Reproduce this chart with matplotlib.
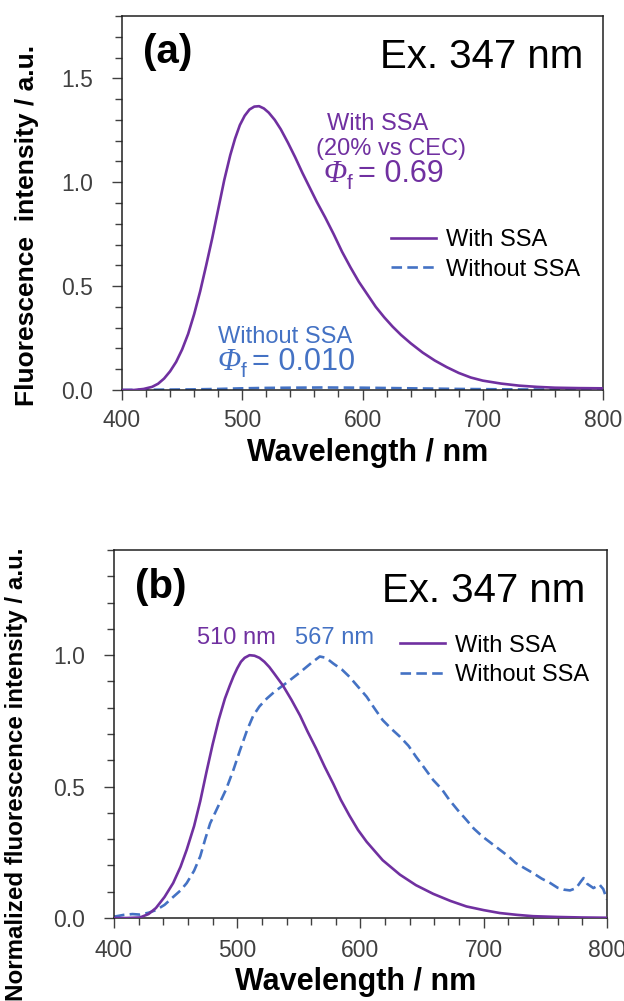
import matplotlib
matplotlib.use("Agg")
import matplotlib.pyplot as plt
from matplotlib.ticker import MultipleLocator

plt.rcParams['font.family'] = ['Liberation Sans', 'DejaVu Sans']

purple = '#7030A0'
blue = '#4472C4'
tick_col = '#404040'

# (a) fluorescence spectra, Ex. 347 nm
wl_a_with = [400, 410, 418, 425, 430, 435, 440, 445, 450, 455, 460, 465, 470, 475,
             480, 485, 490, 494, 498, 502, 506, 510, 514, 518, 522, 527, 532, 538,
             544, 550, 556, 562, 569, 576, 583, 590, 597, 604, 611, 618, 625, 632,
             640, 650, 660, 670, 680, 690, 700, 715, 730, 745, 760, 780, 800]
int_a_with = [0.0, 0.0, 0.005, 0.015, 0.03, 0.055, 0.09, 0.135, 0.195, 0.27, 0.365,
              0.475, 0.60, 0.73, 0.87, 1.01, 1.13, 1.21, 1.275, 1.32, 1.35, 1.364,
              1.366, 1.355, 1.335, 1.30, 1.255, 1.19, 1.12, 1.045, 0.975, 0.905,
              0.83, 0.75, 0.665, 0.59, 0.52, 0.46, 0.40, 0.35, 0.305, 0.265, 0.225,
              0.18, 0.142, 0.11, 0.082, 0.06, 0.045, 0.031, 0.021, 0.015, 0.011,
              0.009, 0.008]

wl_a_without = [400, 420, 440, 460, 480, 500, 520, 540, 567, 600, 640, 680, 720, 760, 800]
int_a_without = [0.0, 0.001, 0.002, 0.003, 0.005, 0.008, 0.010, 0.011, 0.012, 0.011,
                 0.008, 0.005, 0.003, 0.002, 0.001]

# (b) normalized spectra
wl_b_with = [400, 410, 421, 428, 434, 441, 448, 454, 459, 465, 470, 475, 480, 485,
             490, 494, 497, 500, 503, 506, 510, 514, 518, 522, 526, 530, 537, 544,
             551, 557, 564, 571, 578, 584, 591, 598, 605, 618, 632, 645, 659, 673,
             686, 700, 713, 727, 740, 760, 780, 800]
int_b_with = [0.0, 0.0, 0.002, 0.015, 0.038, 0.08, 0.133, 0.195, 0.26, 0.35, 0.445,
              0.555, 0.66, 0.755, 0.835, 0.885, 0.92, 0.95, 0.975, 0.99, 1.0, 0.998,
              0.99, 0.975, 0.955, 0.93, 0.885, 0.83, 0.77, 0.71, 0.645, 0.575, 0.51,
              0.45, 0.39, 0.335, 0.29, 0.22, 0.165, 0.125, 0.092, 0.065, 0.044, 0.03,
              0.019, 0.012, 0.007, 0.004, 0.002, 0.001]

wl_b_without = [400, 408, 415, 421, 428, 434, 441, 448, 454, 459, 465, 470, 474, 478,
                482, 486, 491, 497, 502, 508, 513, 518, 524, 530, 540, 551, 560, 567,
                572, 578, 585, 591, 598, 605, 611, 618, 625, 632, 639, 645, 652, 659,
                666, 672, 679, 686, 692, 699, 706, 713, 720, 726, 733, 740, 747, 754,
                760, 765, 770, 775, 779, 781, 784, 789, 794, 797, 800]
int_b_without = [0.005, 0.012, 0.015, 0.013, 0.02, 0.03, 0.05, 0.08, 0.105, 0.133,
                 0.18, 0.235, 0.30, 0.36, 0.40, 0.44, 0.49, 0.565, 0.635, 0.715, 0.77,
                 0.805, 0.835, 0.86, 0.895, 0.935, 0.97, 0.995, 0.99, 0.968, 0.945,
                 0.918, 0.88, 0.842, 0.80, 0.753, 0.72, 0.69, 0.655, 0.614, 0.57,
                 0.525, 0.49, 0.45, 0.41, 0.373, 0.34, 0.31, 0.285, 0.26, 0.235,
                 0.209, 0.19, 0.171, 0.15, 0.133, 0.115, 0.108, 0.105, 0.114, 0.14,
                 0.152, 0.13, 0.114, 0.127, 0.11, 0.07]

fig = plt.figure(figsize=(6.24, 10.01), dpi=100)
ax1 = fig.add_axes([0.1955, 0.6104, 0.771, 0.3736])
ax2 = fig.add_axes([0.1827, 0.0829, 0.790, 0.3676])

lw = 1.9
dash = (4, 2)


def style_axes(ax, ymax, xpad, ypad):
    ax.set_xlim(400, 800)
    ax.set_ylim(0, ymax)
    ax.xaxis.set_major_locator(MultipleLocator(100))
    ax.xaxis.set_minor_locator(MultipleLocator(20))
    ax.yaxis.set_major_locator(MultipleLocator(0.5))
    ax.yaxis.set_minor_locator(MultipleLocator(0.1))
    ax.yaxis.set_major_formatter(matplotlib.ticker.FormatStrFormatter('%.1f'))
    ax.tick_params(which='major', direction='out', length=7, width=1.0,
                   labelsize=16.5, labelcolor=tick_col, color='#404040')
    ax.tick_params(which='minor', direction='out', length=5, width=1.0, color='#404040')
    ax.tick_params(axis='x', which='major', pad=xpad)
    ax.tick_params(axis='y', which='major', pad=ypad)
    for s in ax.spines.values():
        s.set_linewidth(1.1)
        s.set_color('#202020')


def phi_text(ax, x, y, value, color):
    # italic serif Phi, sans subscript f, then "= value"
    t1 = ax.text(x, y, 'Φ', transform=ax.transAxes, fontsize=22, color=color,
                 family='Liberation Serif', style='italic', ha='left', va='baseline')
    t2 = ax.annotate('f', xy=(1, 0), xycoords=t1, xytext=(0, 0),
                     textcoords='offset points', fontsize=15, color=color,
                     ha='left', va='baseline')
    ax.annotate('= ' + value, xy=(1, 0), xycoords=(t2, t1), xytext=(4, 0),
                textcoords='offset points', fontsize=22, color=color,
                ha='left', va='bottom')


# ---- (a)
ax1.plot(wl_a_with, int_a_with, color=purple, lw=lw, label='With SSA', zorder=3)
ax1.plot(wl_a_without, int_a_without, color=blue, lw=lw, dashes=dash,
         label='Without SSA', zorder=2)
style_axes(ax1, 1.8, 6.5, 14)
ax1.set_xlabel('Wavelength / nm', fontsize=22, fontweight='bold')
ax1.xaxis.set_label_coords(0.51, -0.128)
ax1.set_ylabel('Fluorescence  intensity / a.u.', fontsize=19, fontweight='bold')
ax1.yaxis.set_label_coords(-0.172, 0.441)

ax1.text(0.044, 0.904, '(a)', transform=ax1.transAxes, fontsize=29,
         fontweight='bold', ha='left', va='center')
ax1.text(0.958, 0.861, 'Ex. 347 nm', transform=ax1.transAxes, fontsize=29,
         ha='right', va='baseline')
ax1.text(0.531, 0.695, 'With SSA', transform=ax1.transAxes, fontsize=17,
         color=purple, ha='center', va='baseline')
ax1.text(0.559, 0.628, '(20% vs CEC)', transform=ax1.transAxes, fontsize=17,
         color=purple, ha='center', va='baseline')
phi_text(ax1, 0.418, 0.556, '0.69', purple)
ax1.text(0.338, 0.126, 'Without SSA', transform=ax1.transAxes, fontsize=17,
         color=blue, ha='center', va='baseline')
phi_text(ax1, 0.1975, 0.053, '0.010', blue)

ax1.legend(loc='upper left', bbox_to_anchor=(0.559, 0.43), frameon=False,
           fontsize=17, handlelength=1.9, handletextpad=0.45, labelspacing=0.32,
           borderpad=0, borderaxespad=0)

# ---- (b)
ax2.plot(wl_b_with, int_b_with, color=purple, lw=lw, label='With SSA', zorder=3)
ax2.plot(wl_b_without, int_b_without, color=blue, lw=lw, dashes=dash,
         label='Without SSA', zorder=2)
style_axes(ax2, 1.4, 8, 14)
ax2.set_xlabel('Wavelength / nm', fontsize=22, fontweight='bold')
ax2.xaxis.set_label_coords(0.49, -0.133)
ax2.set_ylabel('Normalized fluorescence intensity / a.u.', fontsize=17.4,
               fontweight='bold')
ax2.yaxis.set_label_coords(-0.174, 0.391)

ax2.text(0.043, 0.899, '(b)', transform=ax2.transAxes, fontsize=29,
         fontweight='bold', ha='left', va='center')
ax2.text(0.955, 0.859, 'Ex. 347 nm', transform=ax2.transAxes, fontsize=29,
         ha='right', va='baseline')
ax2.text(0.249, 0.745, '510 nm', transform=ax2.transAxes, fontsize=17,
         color=purple, ha='center', va='baseline')
ax2.text(0.448, 0.745, '567 nm', transform=ax2.transAxes, fontsize=17,
         color=blue, ha='center', va='baseline')

ax2.legend(loc='upper left', bbox_to_anchor=(0.58, 0.77), frameon=False,
           fontsize=17, handlelength=1.9, handletextpad=0.45, labelspacing=0.32,
           borderpad=0, borderaxespad=0)

fig.savefig('out.png', dpi=100)
